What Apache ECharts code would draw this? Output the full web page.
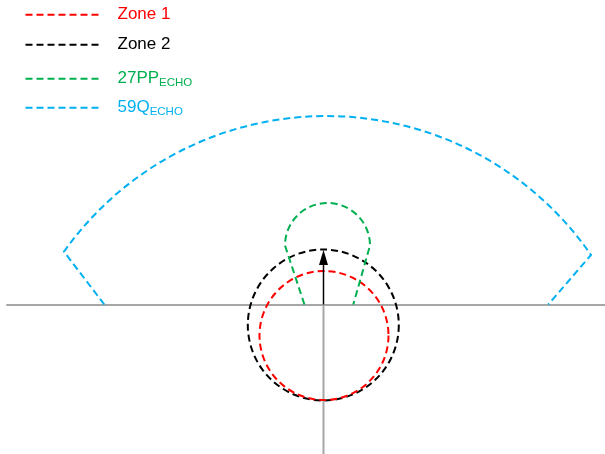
<!DOCTYPE html>
<html>
<head>
<meta charset="utf-8">
<style>
  html, body { margin: 0; padding: 0; background: #ffffff; }
  #chart { width: 605px; height: 454px; }
</style>
<script src="https://cdn.jsdelivr.net/npm/echarts@6/dist/echarts.min.js"></script>
</head>
<body>
<div id="chart"></div>
<script>
// Relay characteristics on the R-X impedance plane (ohms).
// Mho zones: [centre R, centre X, radius]
const zone1Circle = [0.05, -3.1, 6.45];
const zone2Circle = [-0.02, -2.05, 7.55];
// 27PP echo: [centre R, centre X, radius, left foot R, right foot R]
const pp27Lens = [0.4, 5.9, 4.25, -1.91, 2.98];
// 59Q echo: [arc radius, left corner R, left corner X, right corner R, right corner X, left foot R, right foot R]
const q59Sector = [32.15, -25.95, 5.28, 26.75, 4.95, -21.92, 22.48];
// Line-angle arrow: [from R, from X, to R, to X]
const lineArrow = [0, 0, 0, 5.45];
// Negative X half of the vertical axis
const xAxisBelow = [[0, 0], [0, -14.95]];

const seriesNames = ['Zone 1', 'Zone 2', '27PP_ECHO', '59Q_ECHO'];
const seriesColors = ['#ff0000', '#000000', '#00b050', '#00b0f0'];
const legendLabels = ['{m|Zone 1}', '{m|Zone 2}', '{m|27PP}{s|ECHO}', '{m|59Q}{s|ECHO}'];
const legendTops = [6.3, 36.3, 70.3, 99.3];

const DASH = [7, 4];
const FONT = 'Liberation Sans, Arial, sans-serif';

function dashedStyle(color) {
  return { fill: 'none', stroke: color, lineWidth: 2, lineDash: DASH };
}

function circleRenderer(color) {
  return function (params, api) {
    const c = api.coord([api.value(0), api.value(1)]);
    const r = api.size([api.value(2), 0])[0];
    return { type: 'circle', shape: { cx: c[0], cy: c[1], r: r }, style: dashedStyle(color) };
  };
}

function lensRenderer(params, api) {
  const c = api.coord([api.value(0), api.value(1)]);
  const r = api.size([api.value(2), 0])[0];
  const fl = api.coord([api.value(3), 0]);
  const fr = api.coord([api.value(4), 0]);
  const d = 'M' + fl[0] + ',' + fl[1] +
    ' L' + (c[0] - r) + ',' + c[1] +
    ' A' + r + ',' + r + ' 0 0 1 ' + (c[0] + r) + ',' + c[1] +
    ' L' + fr[0] + ',' + fr[1];
  return { type: 'path', shape: { pathData: d }, style: dashedStyle(seriesColors[2]) };
}

function sectorRenderer(params, api) {
  const r = api.size([api.value(0), 0])[0];
  const cl = api.coord([api.value(1), api.value(2)]);
  const cr = api.coord([api.value(3), api.value(4)]);
  const fl = api.coord([api.value(5), 0]);
  const fr = api.coord([api.value(6), 0]);
  const d = 'M' + fl[0] + ',' + fl[1] +
    ' L' + cl[0] + ',' + cl[1] +
    ' A' + r + ',' + r + ' 0 0 1 ' + cr[0] + ',' + cr[1] +
    ' L' + fr[0] + ',' + fr[1];
  return { type: 'path', shape: { pathData: d }, style: dashedStyle(seriesColors[3]) };
}

function arrowRenderer(params, api) {
  const p0 = api.coord([api.value(0), api.value(1)]);
  const p1 = api.coord([api.value(2), api.value(3)]);
  const headLen = 15, headHalf = 4.5;
  const dx = p1[0] - p0[0], dy = p1[1] - p0[1];
  const len = Math.sqrt(dx * dx + dy * dy) || 1;
  const ux = dx / len, uy = dy / len;
  const bx = p1[0] - ux * headLen, by = p1[1] - uy * headLen;
  return {
    type: 'group',
    children: [
      { type: 'line', shape: { x1: p0[0], y1: p0[1], x2: bx, y2: by },
        style: { stroke: '#000000', lineWidth: 1.5 } },
      { type: 'polygon',
        shape: { points: [[p1[0], p1[1]], [bx - uy * headHalf, by + ux * headHalf], [bx + uy * headHalf, by - ux * headHalf]] },
        style: { fill: '#000000' } }
    ]
  };
}

const chart = echarts.init(document.getElementById('chart'), null, { renderer: 'canvas' });

chart.setOption({
  animation: false,
  backgroundColor: '#ffffff',
  grid: { left: 7, right: 0, top: 0, bottom: 0 },
  xAxis: {
    type: 'value', min: -31.65, max: 28.15,
    axisLine: { show: true, onZero: true, lineStyle: { color: '#a6a6a6', width: 2 } },
    axisTick: { show: false }, axisLabel: { show: false }, splitLine: { show: false }
  },
  yAxis: { type: 'value', min: -14.95, max: 30.45, show: false },
  legend: seriesNames.map(function (name, i) {
    return {
      data: [name],
      left: 23, top: legendTops[i], padding: 0,
      selectedMode: false,
      itemWidth: 87, itemHeight: 10,
      icon: 'path://M0,0M0,10M87,0M0,5L77,5',
      itemStyle: { color: 'none', borderColor: seriesColors[i], borderWidth: 2, borderType: DASH },
      formatter: function () { return legendLabels[i]; },
      textStyle: {
        color: seriesColors[i], fontFamily: FONT,
        rich: {
          m: { fontSize: 17, lineHeight: 20, fontFamily: FONT, color: seriesColors[i] },
          s: { fontSize: 11.5, lineHeight: 11, verticalAlign: 'bottom', fontFamily: FONT, color: seriesColors[i] }
        }
      }
    };
  }),
  series: [
    {
      name: 'axis', type: 'line', data: xAxisBelow, symbol: 'none', silent: true,
      lineStyle: { color: '#a6a6a6', width: 2 }, z: 1
    },
    { name: seriesNames[1], type: 'custom', renderItem: circleRenderer(seriesColors[1]), data: [zone2Circle], z: 2 },
    { name: seriesNames[0], type: 'custom', renderItem: circleRenderer(seriesColors[0]), data: [zone1Circle], z: 3 },
    { name: seriesNames[2], type: 'custom', renderItem: lensRenderer, data: [pp27Lens], z: 3 },
    { name: seriesNames[3], type: 'custom', renderItem: sectorRenderer, data: [q59Sector], z: 3 },
    { name: 'arrow', type: 'custom', renderItem: arrowRenderer, data: [lineArrow], z: 4 }
  ]
});
</script>
</body>
</html>
